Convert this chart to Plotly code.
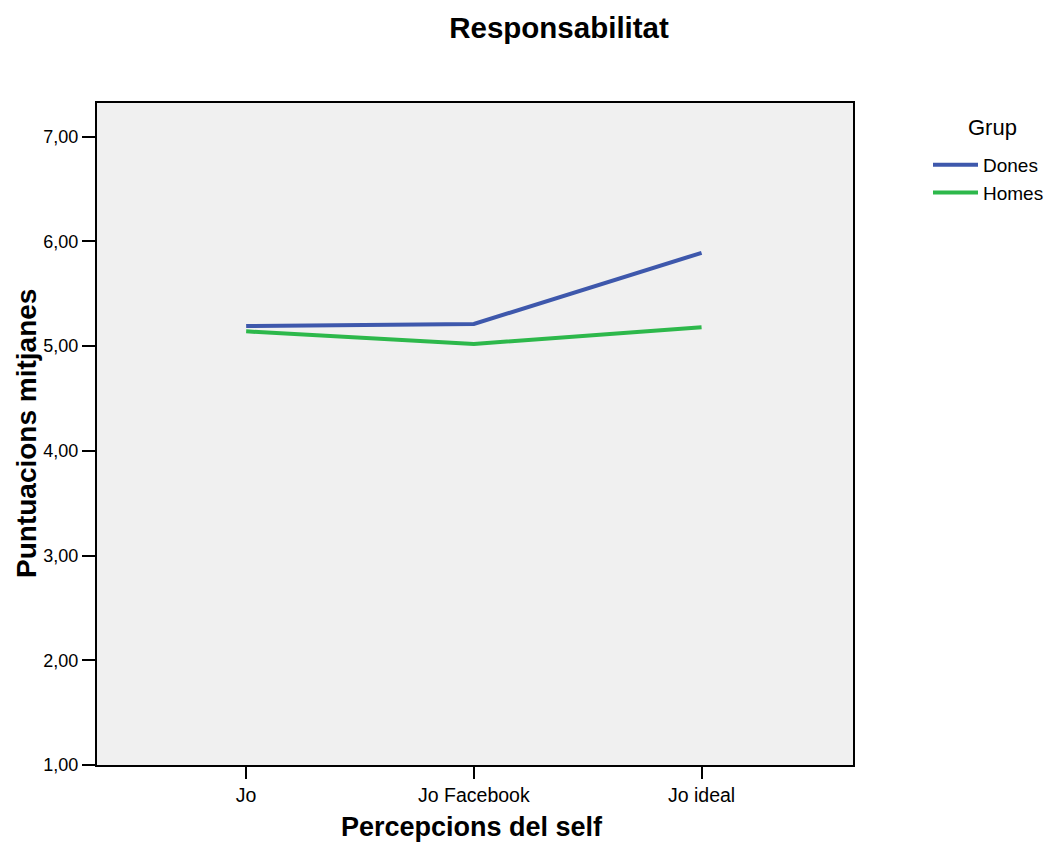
import plotly.graph_objects as go

categories = ["Jo", "Jo Facebook", "Jo ideal"]
dones = [5.19, 5.21, 5.89]
homes = [5.14, 5.02, 5.18]
y_ticks = [1, 2, 3, 4, 5, 6, 7]
y_tick_labels = ["1,00", "2,00", "3,00", "4,00", "5,00", "6,00", "7,00"]

FONT = "Liberation Sans, Arial, sans-serif"
x_idx = list(range(len(categories)))

# page has an 8px body margin; figure coords = screen coords - 8
W, H = 1044, 835
L, T, PW, PH = 89, 95, 756, 662

fig = go.Figure()
fig.add_trace(go.Scatter(x=x_idx, y=dones, mode="lines", name="Dones",
                         line=dict(color="#3E58AC", width=4)))
fig.add_trace(go.Scatter(x=x_idx, y=homes, mode="lines", name="Homes",
                         line=dict(color="#2DB84B", width=4)))

fig.update_layout(
    width=W, height=H,
    margin=dict(l=L, r=W - L - PW, t=T, b=H - T - PH, autoexpand=False),
    paper_bgcolor="white",
    plot_bgcolor="#F0F0F0",
    font=dict(family=FONT, size=19, color="black"),
    title=dict(text="<b>Responsabilitat</b>", font=dict(size=29.5, family=FONT, color="black"),
               xref="paper", x=(551 - L) / PW, xanchor="center",
               yref="container", y=1 - 20 / H, yanchor="middle"),
    xaxis=dict(range=[-0.655, 2.665], tickvals=x_idx, ticktext=categories,
               showgrid=False, zeroline=False, showline=True, linecolor="black",
               linewidth=2, mirror=True, ticks="outside", ticklen=12, tickwidth=2,
               tickcolor="black", tickfont=dict(size=19.5)),
    yaxis=dict(range=[1, 7.32], tickvals=y_ticks, ticktext=y_tick_labels,
               showgrid=False, zeroline=False, showline=True, linecolor="black",
               linewidth=2, mirror=True, ticks="outside", ticklen=13, tickwidth=2,
               tickcolor="black", tickfont=dict(size=18)),
    legend=dict(x=(920 - L) / PW, xanchor="left",
                y=(T + PH - 138) / PH, yanchor="top",
                font=dict(size=19), bgcolor="rgba(0,0,0,0)",
                tracegroupgap=0, itemwidth=45),
    showlegend=True,
    annotations=[
        dict(text="Grup", xref="paper", yref="paper",
             x=(984 - L) / PW, y=(T + PH - 120) / PH, xanchor="center", yanchor="middle",
             showarrow=False, font=dict(size=22, family=FONT, color="black")),
        dict(text="<b>Percepcions del self</b>", xref="paper", yref="paper",
             x=(464 - L) / PW, y=-(819 - (T + PH)) / PH, xanchor="center", yanchor="middle",
             showarrow=False, font=dict(size=27, family=FONT, color="black")),
        dict(text="<b>Puntuacions mitjanes</b>", xref="paper", yref="paper",
             x=-(L - 18) / PW, y=0.5, xanchor="center", yanchor="middle",
             textangle=-90, showarrow=False,
             font=dict(size=28, family=FONT, color="black")),
    ],
)

fig.write_html("out.html")
